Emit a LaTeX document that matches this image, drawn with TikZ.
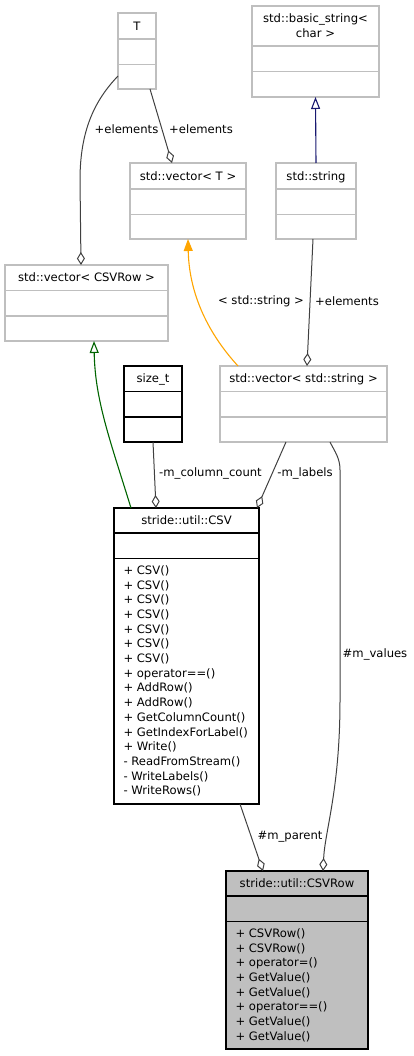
\documentclass[tikz,border=0pt]{standalone}
\usepackage{fontspec}
\setmainfont{DejaVu Sans}
\usepackage{xcolor}
\usetikzlibrary{arrows.meta}
\definecolor{boxgray}{HTML}{BFBFBF}
\definecolor{edgegray}{HTML}{404040}
\definecolor{inhblue}{HTML}{191970}
\definecolor{inhgreen}{HTML}{006400}
\definecolor{tmplorange}{HTML}{FFA500}
\def\secH{25.5}
\newcommand{\tstrut}{\rule[-3.25pt]{0pt}{14.7pt}}
\newcommand{\umlclass}[9]{%
% #1 = name, #2 = style, #3,#4 = top left, #5,#6 = bottom right
% #7 = title height, #8 = title, #9 = operations
\node[#2, anchor=north west, minimum width={#5-#3}, minimum height={#6-#4}] (#1) at (#3,#4) {};
\draw[#2 line] ({#3},{#4+#7}) -- ({#5},{#4+#7});
\draw[#2 line] ({#3},{#4+#7+\secH}) -- ({#5},{#4+#7+\secH});
\node[align=center] (#1 title) at ({(#3+#5)/2},{#4+#7/2}) {\tstrut#8};
\if\relax\detokenize{#9}\relax\else
\node[anchor=north west, align=left] (#1 ops) at ({#3+9.5},{#4+#7+\secH+4.35}) {\tstrut#9};
\fi
}

\begin{document}
\begin{tikzpicture}[
    x=1pt, y=-1pt,
    font=\fontsize{11.6}{14.7}\selectfont,
    every node/.style={inner sep=0pt, outer sep=0pt},
    graycls/.style={draw=boxgray, fill=white, line width=1.1pt},
    graycls line/.style={draw=boxgray, line width=1.1pt},
    blackcls/.style={draw=black, fill=white, line width=1.2pt},
    blackcls line/.style={draw=black, line width=1.2pt},
    curcls/.style={draw=black, fill=boxgray, line width=1.2pt},
    curcls line/.style={draw=black, line width=1.2pt},
    aggr/.style={draw=edgegray, line width=1pt, -{Diamond[open, length=13pt, width=8pt]}},
    inh/.style={line width=1.1pt, -{Triangle[open, length=12pt, width=9pt]}},
    tmpl/.style={draw=tmplorange, line width=1.1pt, -{Triangle[fill=tmplorange, length=12pt, width=9pt]}},
    lbl/.style={inner sep=0pt}
]
\useasboundingbox (0,0) rectangle (413,1056);

% classes
\umlclass{T}{graycls}{118}{13}{156}{89}{26}{T}{}
\umlclass{bstring}{graycls}{252}{6}{379}{97}{40}{std::basic\_string<\\\tstrut char >}{}
\umlclass{vecT}{graycls}{130}{163}{246}{239}{26}{std::vector< T >}{}
\umlclass{str}{graycls}{276}{163}{356}{239}{26}{std::string}{}
\umlclass{vecrow}{graycls}{5}{265}{168}{341}{25.5}{std::vector< CSVRow >}{}
\umlclass{sizet}{blackcls}{124}{366}{182}{442}{25.5}{size\_t}{}
\umlclass{vecstr}{graycls}{220}{366}{387}{442}{25.5}{std::vector< std::string >}{}
\umlclass{csv}{blackcls}{114}{508}{259}{804}{25}{stride::util::CSV}{%
+ CSV()\\+ CSV()\\+ CSV()\\+ CSV()\\+ CSV()\\+ CSV()\\+ CSV()\\
+ operator==()\\+ AddRow()\\+ AddRow()\\+ GetColumnCount()\\
+ GetIndexForLabel()\\+ Write()\\- ReadFromStream()\\- WriteLabels()\\- WriteRows()}
\umlclass{csvrow}{curcls}{226}{871}{368}{1049}{25}{stride::util::CSVRow}{%
+ CSVRow()\\+ CSVRow()\\+ operator=()\\+ GetValue()\\+ GetValue()\\
+ operator==()\\+ GetValue()\\+ GetValue()}

% connectors
\draw[aggr] ([yshift=13pt]T.south west) .. controls (95,100) and (80,130) .. (80,180)
    -- ([xshift=-5.5pt]vecrow.north);
\draw[aggr] ([xshift=-6pt]T.south east) -- ([xshift=-16pt]vecT.north);
\draw[inh, draw=inhblue] (str.north) -- (bstring.south);
\draw[aggr] ([xshift=-3pt]str.south) -- ([xshift=3.5pt]vecstr.north);
\draw[tmpl] ([xshift=18pt]vecstr.north west) .. controls (205,330) and (189,290) .. (vecT.south);
\draw[inh, draw=inhgreen] ([xshift=17pt]csv.north west) .. controls (110,440) and (95,400)
    .. ([xshift=7.5pt]vecrow.south);
\draw[aggr] (sizet.south) -- ([xshift=-30.5pt]csv.north);
\draw[aggr] ([xshift=-17.5pt]vecstr.south) -- ([xshift=-2pt]csv.north east);
\draw[aggr] ([xshift=26.5pt]vecstr.south) .. controls (335,452) and (340,458) .. (340,470)
    -- (340,700) .. controls (340,790) and (325,830) .. ([xshift=26pt]csvrow.north);
\draw[aggr] ([xshift=53.5pt]csv.south) -- ([xshift=-34pt]csvrow.north);

% labels
\node[lbl] (lab1) at (126.5,129) {+elements};
\node[lbl] (lab2) at (201,129) {+elements};
\node[lbl] (lab3) at (261,301.5) {< std::string >};
\node[lbl] (lab4) at (347,301.5) {+elements};
\node[lbl] (lab5) at (210.5,473) {-m\_column\_count};
\node[lbl] (lab6) at (305,473) {-m\_labels};
\node[lbl] (lab7) at (375,654.5) {\#m\_values};
\node[lbl] (lab8) at (290,836.5) {\#m\_parent};
\end{tikzpicture}
\end{document}
